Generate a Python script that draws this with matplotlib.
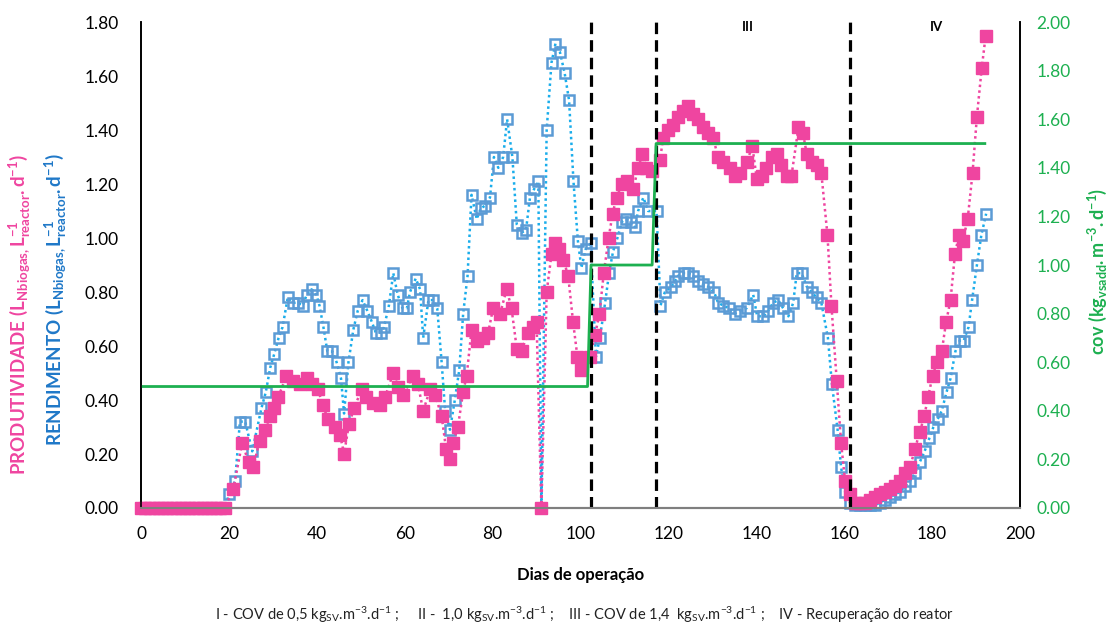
import matplotlib
matplotlib.use("Agg")
import matplotlib.pyplot as plt

plt.rcParams['font.family'] = ['Lato', 'DejaVu Sans']
plt.rcParams['mathtext.fontset'] = 'custom'
plt.rcParams['mathtext.rm'] = 'Lato'
plt.rcParams['mathtext.bf'] = 'Lato:bold'
plt.rcParams['mathtext.it'] = 'Lato:italic'

PINK = '#EF45A0'
BLUE_MK = '#5B9BD5'
BLUE_LN = '#1AADEB'
GREEN = '#1DB050'

# produtividade (L Nbiogas / L reactor / d)
dias_prod = list(range(0, 20)) + [
    21, 23, 24.5, 25.5, 27, 28.2, 29.4, 30.3, 31.2, 33.1, 34.6, 36.2, 37.7, 38.8,
    40.3, 41.3, 42.6, 44.1, 45.3, 46.2, 47.3, 48.5, 50.2, 51.3, 52.8, 54.4, 55.5,
    57.4, 58.5, 59.7, 61.9, 63, 64.2, 65.8, 66.9, 68.4, 69.4, 70.3, 71, 72.1, 73.3,
    74.1, 75.2, 76.4, 77.9, 79, 80.1, 81.7, 83.2, 84.3, 85.5, 86.6, 88, 89.2, 90,
    91.1, 92.3, 93.4, 94.2, 95.1, 96.1, 97.2, 98.3, 99.3, 100.2, 102.1, 103.3,
    104.3, 105.3, 106.4, 107.3, 108.2, 109.4, 110.5, 112, 113.1, 114.1, 115, 116.2,
    118.1, 118.8, 119.9, 121.1, 122.2, 123.4, 124.5, 125.6, 126.8, 127.9, 129,
    130.2, 131.3, 132.5, 134, 135.1, 136.2, 137.8, 139.1, 140.1, 141.2, 142.3,
    143.5, 144.6, 145.7, 146.9, 148, 149.6, 150.6, 151.5, 152.6, 153.7, 154.8,
    156.2, 157.1, 158.3, 159.3, 160.2, 161.3, 162.4, 163.5, 164.7, 165.8, 167,
    168.1, 169.3, 170.4, 171.6, 172.7, 173.8, 175, 176.1, 177.2, 178.2, 179.1,
    180.1, 181.1, 182.2, 183.2, 184.2, 185.2, 186.1, 187, 188.1, 189.2, 190.2,
    191.3, 192.2]
produtividade = [0.0] * 20 + [
    0.07, 0.24, 0.17, 0.15, 0.25, 0.29, 0.34, 0.37, 0.41, 0.49, 0.47, 0.46, 0.48, 0.46,
    0.44, 0.38, 0.33, 0.30, 0.27, 0.20, 0.31, 0.37, 0.44, 0.41, 0.39, 0.38, 0.41,
    0.50, 0.45, 0.42, 0.49, 0.46, 0.36, 0.44, 0.42, 0.34, 0.22, 0.18, 0.24, 0.30, 0.43,
    0.49, 0.66, 0.62, 0.63, 0.65, 0.74, 0.72, 0.81, 0.74, 0.59, 0.58, 0.65, 0.67, 0.69,
    0.00, 0.80, 0.94, 0.98, 0.96, 0.92, 0.86, 0.69, 0.56, 0.51, 0.56, 0.64,
    0.72, 0.87, 1.00, 1.09, 1.15, 1.20, 1.21, 1.18, 1.26, 1.31, 1.26, 1.25,
    1.29, 1.37, 1.40, 1.42, 1.45, 1.47, 1.49, 1.46, 1.44, 1.41, 1.39,
    1.37, 1.30, 1.28, 1.26, 1.23, 1.24, 1.28, 1.34, 1.22, 1.23, 1.26,
    1.30, 1.31, 1.27, 1.23, 1.23, 1.41, 1.39, 1.31, 1.28, 1.27, 1.24,
    1.01, 0.75, 0.47, 0.24, 0.10, 0.05, 0.02, 0.02, 0.02, 0.03, 0.04,
    0.05, 0.06, 0.07, 0.08, 0.10, 0.13, 0.15, 0.22, 0.28, 0.34, 0.41,
    0.49, 0.54, 0.58, 0.69, 0.77, 0.94, 1.01, 0.99, 1.07, 1.24, 1.45,
    1.63, 1.75]

# rendimento (L Nbiogas / L reactor / d)
dias_rend = list(range(0, 20)) + [
    20, 21.4, 22.5, 23.7, 25.3, 27.4, 28.4, 29.4, 30.3, 31.3, 32.2, 33.4, 34.5, 35.7,
    36.8, 37.7, 38.8, 39.9, 40.6, 41.5, 42.4, 43.5, 44.5, 45.5, 46.2, 47.2, 48.3,
    49.3, 50.4, 51.5, 52.5, 53.4, 54.5, 55.3, 56.4, 57.4, 58.4, 59.5, 60.5, 61.2,
    62.5, 63.5, 64.2, 65.4, 66.5, 67.4, 68.4, 69.2, 70.3, 71.4, 72.4, 73.3, 74.3,
    75.2, 76.4, 77.3, 78.3, 79.4, 80.3, 81.3, 82.4, 83.3, 84.5, 85.5, 86.6, 87.6,
    88.5, 89.4, 90.4, 91.1, 92.3, 93.4, 94.3, 95.3, 96.4, 97.4, 98.4, 99.4, 100.2,
    101.2, 102.3, 103.5, 104.4, 105.6, 106.5, 107.4, 108.4, 109.4, 110.3, 111.4,
    112.4, 113.1, 114.3, 115.4, 117.3, 118.2, 119.2, 120.7, 121.5, 122.2, 123.5,
    124.5, 125.6, 126.8, 127.9, 129, 130.4, 131.3, 132.5, 133.8, 135.1, 136.2,
    137.8, 139.3, 140.2, 141.6, 142.7, 143.8, 145, 146.1, 147.3, 148.4, 149.2,
    150.3, 151.5, 152.6, 153.7, 154.8, 156.3, 157.2, 158.5, 159.3, 160.2, 161.3,
    162.4, 163.5, 164.7, 165.8, 167, 168.1, 169.3, 170.4, 171.6, 172.7, 173.8, 175,
    176.1, 177.2, 178.3, 179.4, 180.3, 181.3, 182.2, 183.3, 184.2, 185.3, 186.3,
    187.2, 188.3, 189.1, 190.2, 191.2, 192.3]
rendimento = [0.0] * 20 + [
    0.05, 0.10, 0.32, 0.32, 0.21, 0.37, 0.43, 0.52, 0.57, 0.63, 0.67, 0.78, 0.76, 0.76,
    0.75, 0.79, 0.81, 0.79, 0.75, 0.67, 0.58, 0.58, 0.54, 0.48, 0.35, 0.54, 0.66,
    0.73, 0.77, 0.73, 0.69, 0.65, 0.65, 0.67, 0.75, 0.87, 0.79, 0.74, 0.74, 0.80,
    0.85, 0.81, 0.63, 0.77, 0.77, 0.74, 0.54, 0.36, 0.29, 0.40, 0.51, 0.72, 0.86,
    1.16, 1.07, 1.11, 1.12, 1.15, 1.30, 1.26, 1.30, 1.44, 1.30, 1.05, 1.02, 1.03,
    1.15, 1.18, 1.21, 0.00, 1.40, 1.65, 1.72, 1.69, 1.61, 1.51, 1.21, 0.99, 0.89,
    0.96, 0.98, 0.56, 0.63, 0.76, 0.87, 0.95, 1.00, 1.06, 1.07, 1.06,
    1.04, 1.10, 1.15, 1.10, 1.10, 0.75, 0.80, 0.82, 0.84, 0.86, 0.87,
    0.87, 0.86, 0.84, 0.83, 0.82, 0.80, 0.76, 0.75, 0.74, 0.72, 0.73,
    0.74, 0.79, 0.71, 0.71, 0.73, 0.76, 0.77, 0.74, 0.71, 0.76, 0.87,
    0.87, 0.82, 0.80, 0.78, 0.76, 0.63, 0.46, 0.29, 0.15, 0.06, 0.02,
    0.01, 0.01, 0.01, 0.01, 0.01, 0.02, 0.03, 0.04, 0.05, 0.06, 0.08, 0.10,
    0.13, 0.17, 0.21, 0.26, 0.30, 0.33, 0.36, 0.43, 0.48, 0.58, 0.62,
    0.62, 0.67, 0.77, 0.90, 1.01, 1.09]

# carga organica volumetrica (kg vsadd / m3 / d)
dias_cov = [0, 101.6, 102.4, 116.3, 117.2, 192]
cov = [0.5, 0.5, 1.0, 1.0, 1.5, 1.5]

fases = [102.4, 117.2, 161.3]
fase_rotulos = [('III', 138), ('IV', 181)]

fig = plt.figure(figsize=(11.14, 6.23), dpi=100)
ax = fig.add_axes([0.1266, 0.1846, 0.789, 0.780])
ax2 = ax.twinx()

ax.plot(dias_rend, rendimento, linestyle=(0, (1, 1.3)), color=BLUE_LN, lw=1.8,
        marker='s', markersize=7.5, markerfacecolor='none',
        markeredgecolor=BLUE_MK, markeredgewidth=1.8, zorder=3, clip_on=False)
ax.plot(dias_prod, produtividade, linestyle=(0, (1, 1.3)), color=PINK, lw=1.8,
        marker='s', markersize=8, markerfacecolor=PINK,
        markeredgecolor=PINK, zorder=4, clip_on=False)

for d in fases:
    ax.axvline(d, color='black', lw=2.3, linestyle=(0, (3.6, 1.9)), zorder=5)

ax2.plot(dias_cov, cov, color=GREEN, lw=2, zorder=2)

ax.set_xlim(0, 200)
ax.set_ylim(0, 1.8)
ax2.set_ylim(0, 2.0)
ax.set_xticks(range(0, 201, 20))
ax.set_yticks([i * 0.2 for i in range(10)])
ax2.set_yticks([i * 0.2 for i in range(11)])
ax.yaxis.set_major_formatter(matplotlib.ticker.FormatStrFormatter('%.2f'))
ax2.yaxis.set_major_formatter(matplotlib.ticker.FormatStrFormatter('%.2f'))

ax.tick_params(axis='y', length=0, pad=16, labelsize=12.5, colors='black')
ax.tick_params(axis='x', length=0, pad=13, labelsize=12.5)
ax2.tick_params(axis='y', length=0, pad=12, labelsize=12.5, labelcolor=GREEN)

for a in (ax, ax2):
    a.spines['top'].set_visible(False)
    a.spines['left'].set_color('black')
    a.spines['right'].set_color('black')
    a.spines['bottom'].set_color('#7f7f7f')
    a.spines['left'].set_linewidth(1.2)
    a.spines['right'].set_linewidth(1.2)
    a.spines['bottom'].set_linewidth(1.5)

ax.set_xlabel('Dias de operação', fontsize=12, fontweight='bold', labelpad=18)

fig.text(0.018, 0.495,
         r'$\mathbf{PRODUTIVIDADE\ (L_{Nbiogas,}L^{-1}_{reactor}.d^{-1})}$',
         rotation=90, color=PINK, fontsize=13.5,
         ha='center', va='center')
fig.text(0.05, 0.52,
         r'$\mathbf{RENDIMENTO\ (L_{Nbiogas,}L^{-1}_{reactor}.d^{-1})}$',
         rotation=90, color='#1F78C8', fontsize=13.5,
         ha='center', va='center')
fig.text(0.985, 0.565, r'$\mathbf{cov\ (kg_{vsadd}.m^{-3}.d^{-1})}$',
         rotation=90, color=GREEN, fontsize=13,
         ha='center', va='center')

for rotulo, x in fase_rotulos:
    ax.text(x, 1.78, rotulo, fontsize=9.5, fontweight='bold',
            ha='center', va='center')

fig.text(0.525, 0.013,
         r'I - COV de 0,5 kg$_{\mathrm{SV}}$.m$^{-3}$.d$^{-1}$ ;     '
         r'II -  1,0 kg$_{\mathrm{SV}}$.m$^{-3}$.d$^{-1}$ ;    '
         r'III - COV de 1,4  kg$_{\mathrm{SV}}$.m$^{-3}$.d$^{-1}$ ;    '
         r'IV - Recuperação do reator',
         fontsize=10.5, color='#222222', ha='center', va='center')

fig.savefig('out.png', dpi=100)
